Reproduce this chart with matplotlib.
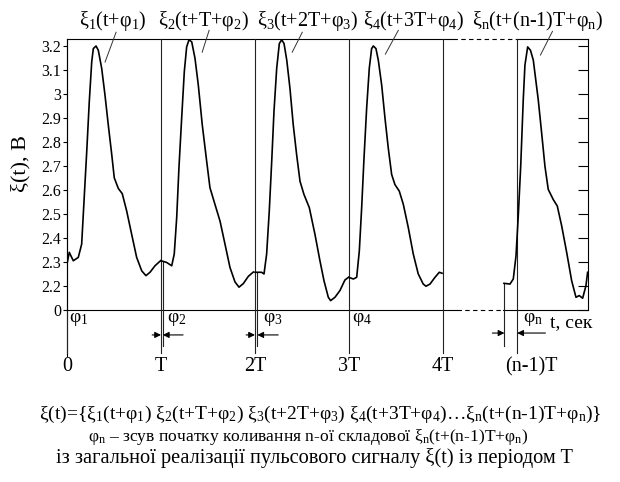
import matplotlib
matplotlib.use('Agg')
import matplotlib.pyplot as plt

plt.rcParams['font.family'] = ['Liberation Serif', 'DejaVu Serif']
plt.rcParams['mathtext.fontset'] = 'custom'
plt.rcParams['mathtext.rm'] = 'Liberation Serif'
plt.rcParams['mathtext.it'] = 'Liberation Serif'
plt.rcParams['mathtext.bf'] = 'Liberation Serif:bold'
plt.rcParams['mathtext.default'] = 'rm'

# pulse waves, time in units of T, voltage in V
t1 = [0.0, 0.024, 0.067, 0.120, 0.156, 0.181, 0.210, 0.237, 0.263, 0.280, 0.309,
      0.333, 0.369, 0.404, 0.439, 0.476, 0.503, 0.546, 0.588, 0.635, 0.688,
      0.741, 0.795, 0.840, 0.883, 0.936, 0.995]
v1 = [2.291, 2.340, 2.305, 2.319, 2.374, 2.553, 2.760, 2.967, 3.133, 3.188, 3.199,
      3.181, 3.106, 2.995, 2.871, 2.747, 2.650, 2.606, 2.584, 2.512, 2.415,
      2.319, 2.263, 2.243, 2.257, 2.284, 2.305]

t2 = [1.0, 1.06, 1.114, 1.141, 1.167, 1.191, 1.220, 1.248, 1.273, 1.298, 1.327,
      1.362, 1.397, 1.439, 1.486, 1.521, 1.574, 1.628, 1.681, 1.734, 1.787,
      1.830, 1.876, 1.929, 1.982]
v2 = [2.305, 2.298, 2.284, 2.333, 2.484, 2.692, 2.899, 3.092, 3.195, 3.225, 3.216,
      3.147, 3.036, 2.871, 2.719, 2.609, 2.540, 2.470, 2.374, 2.277, 2.217,
      2.195, 2.21, 2.24, 2.258]

t3 = [2.0, 2.07, 2.096, 2.124, 2.152, 2.178, 2.202, 2.231, 2.259, 2.284, 2.309,
      2.338, 2.372, 2.407, 2.443, 2.479, 2.521, 2.578, 2.638, 2.691, 2.734,
      2.780, 2.805, 2.851, 2.904, 2.957, 2.995]
v3 = [2.257, 2.257, 2.250, 2.333, 2.512, 2.719, 2.926, 3.106, 3.209, 3.225, 3.209,
      3.140, 3.023, 2.871, 2.747, 2.636, 2.581, 2.526, 2.415, 2.305, 2.222,
      2.153, 2.139, 2.153, 2.181, 2.225, 2.236]

t4 = [3.0, 3.046, 3.082, 3.110, 3.135, 3.160, 3.188, 3.216, 3.241, 3.259, 3.287,
      3.312, 3.348, 3.383, 3.418, 3.454, 3.489, 3.535, 3.578, 3.631, 3.684,
      3.737, 3.790, 3.819, 3.862, 3.915, 3.961, 3.990]
v4 = [2.236, 2.229, 2.236, 2.346, 2.526, 2.733, 2.940, 3.106, 3.188, 3.199, 3.188,
      3.140, 3.036, 2.899, 2.774, 2.664, 2.622, 2.595, 2.540, 2.443, 2.333,
      2.250, 2.208, 2.199, 2.208, 2.236, 2.257, 2.253]

tn = [4.649, 4.713, 4.748, 4.777, 4.801, 4.827, 4.854, 4.872, 4.901, 4.931, 4.961,
      5.014, 5.050, 5.085, 5.120, 5.173, 5.216, 5.263, 5.316, 5.369, 5.415,
      5.450, 5.486, 5.521, 5.539]
vn = [2.211, 2.208, 2.229, 2.325, 2.491, 2.698, 2.974, 3.119, 3.195, 3.181, 3.140,
      2.974, 2.836, 2.698, 2.602, 2.560, 2.533, 2.450, 2.340, 2.222, 2.153,
      2.160, 2.149, 2.201, 2.257]

# y axis: broken at the bottom, the lowest tick is shown as 0
ytick_vals = [2.1, 2.2, 2.3, 2.4, 2.5, 2.6, 2.7, 2.8, 2.9, 3.0, 3.1, 3.2]
ytick_labels = ['0', '2.2', '2.3', '2.4', '2.5', '2.6', '2.7', '2.8', '2.9', '3', '3.1', '3.2']

# period marks on the time axis
period_pos = [0, 1, 2, 3, 4, 4.79]
period_text_pos = [0, 1, 2, 3, 4, 4.94]
period_labels = ['0', 'T', '2T', '3T', '4T', '(n-1)T']

# start of each component (offset line from the curve down)
start_pos = [1.02, 2.025, 4.654]
start_val = [2.305, 2.257, 2.211]

top_labels = ['ξ$_1$(t+φ$_1$)', 'ξ$_2$(t+T+φ$_2$)', 'ξ$_3$(t+2T+φ$_3$)',
              'ξ$_4$(t+3T+φ$_4$)', 'ξ$_n$(t+(n-1)T+φ$_n$)']
top_label_x = [79, 158, 257, 363, 472]
phi_labels = ['φ$_1$', 'φ$_2$', 'φ$_3$', 'φ$_4$', 'φ$_n$']
phi_label_pos = [0.021, 1.065, 2.087, 3.035, 4.856]

caption = ['ξ(t)={ξ$_1$(t+φ$_1$) ξ$_2$(t+T+φ$_2$) ξ$_3$(t+2T+φ$_3$) ξ$_4$(t+3T+φ$_4$)…ξ$_n$(t+(n-1)T+φ$_n$)}',
           'φ$_n$ – зсув початку коливання n-ої складової ξ$_n$(t+(n-1)T+φ$_n$)',
           'із загальної реалізації пульсового сигналу ξ(t) із періодом T']
caption_x = [320, 308, 314]
caption_y = [419, 441, 463]
caption_size = [14, 12.6, 14.7]

W, H = 620, 482
fig = plt.figure(figsize=(6.2, 4.82), dpi=100)
ax = fig.add_axes([67 / W, 1 - 310 / H, (588 - 67) / W, (310 - 39) / H])
XMAX = 5.543
ax.set_xlim(0, XMAX)
ax.set_ylim(2.1, 3.228)

for t, v in [(t1, v1), (t2, v2), (t3, v3), (t4, v4), (tn, vn)]:
    ax.plot(t, v, color='black', lw=1.2, zorder=3)

ax.spines['top'].set_visible(False)
ax.spines['bottom'].set_visible(False)
ax.spines['left'].set_linewidth(0.8)
ax.spines['right'].set_linewidth(0.8)
ax.set_xticks([])
ax.set_yticks(ytick_vals)
ax.set_yticklabels(ytick_labels, fontsize=11.5)
ax.tick_params(axis='y', direction='out', length=3, width=0.8, pad=1)

ax2 = ax.twinx()
ax2.set_ylim(ax.get_ylim())
ax2.set_yticks(ytick_vals)
ax2.tick_params(axis='y', direction='in', length=7, width=0.8, labelright=False)
for s in ['top', 'bottom', 'left', 'right']:
    ax2.spines[s].set_visible(False)

tr = ax.get_xaxis_transform()
kw = dict(color='black', lw=0.8, transform=tr, clip_on=False)
# top and bottom frame with a broken (dashed) part
ax.plot([0, 4.11], [1, 1], **kw)
ax.plot([4.11, 4.79], [1, 1], ls=(0, (4, 3)), **kw)
ax.plot([4.79, XMAX], [1, 1], **kw)
ax.plot([0, 4.153], [0, 0], **kw)
ax.plot([4.153, 4.643], [0, 0], ls=(0, (4, 3)), **kw)
ax.plot([4.643, XMAX], [0, 0], **kw)
ax.plot([0, 0], [0, -0.17], **kw)

# period lines
for p in period_pos:
    ax.plot([p, p], [1, -0.16], color='#222222', lw=0.8, transform=tr, clip_on=False, zorder=2)
for p, v in zip(start_pos, start_val):
    ax.plot([p, p], [v, 1.95], color='#222222', lw=0.8, clip_on=False, zorder=2)

for p, s in zip(period_text_pos, period_labels):
    ax.text(p, -0.21, s, transform=tr, ha='center', va='center', fontsize=14.5)

for p, s in zip(phi_label_pos, phi_labels):
    ax.text(p, -0.005, s, transform=tr, ha='left', va='top', fontsize=14)
ax.text(5.144, -0.048, 't, сек', transform=tr, ha='left', va='center', fontsize=14)

# dimension arrows for the offsets
arr = dict(arrowstyle='-|>', lw=0.8, color='black', mutation_scale=9, shrinkA=0, shrinkB=0)
for a, b, y in [(0.906, 1.0, -0.092), (1.235, 1.02, -0.092),
                (1.906, 2.0, -0.092), (2.247, 2.025, -0.092),
                (4.526, 4.654, -0.085), (5.09, 4.79, -0.085)]:
    ax.annotate('', xy=(b, y), xytext=(a, y), xycoords=tr, textcoords=tr, arrowprops=arr)

# labels on top with leader lines
for x, s in zip(top_label_x, top_labels):
    fig.text(x / W, 1 - 26 / H, s, ha='left', va='baseline', fontsize=14.5)
for (a, b), (c, d) in [((0.405, 3.132), (0.522, 3.256)), ((1.438, 3.173), (1.512, 3.264)),
                       ((2.396, 3.173), (2.503, 3.256)), ((3.387, 3.165), (3.525, 3.264)),
                       ((5.037, 3.161), (5.165, 3.26))]:
    ax.plot([a, c], [b, d], color='#333333', lw=0.7, clip_on=False)

ax.set_ylabel('ξ(t), B', fontsize=16)
ax.yaxis.set_label_coords(-0.07, 0.54)

for x, y, s, fs in zip(caption_x, caption_y, caption, caption_size):
    fig.text(x / W, 1 - y / H, s, ha='center', va='baseline', fontsize=fs)

fig.savefig('out.png', dpi=100)
